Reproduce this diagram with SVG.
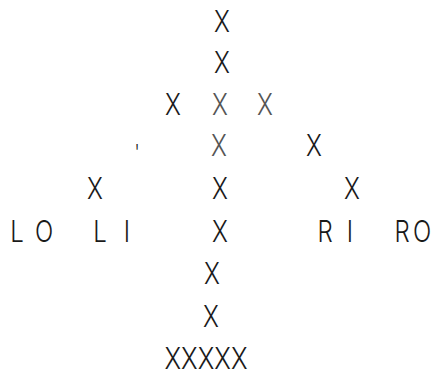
<svg xmlns="http://www.w3.org/2000/svg" width="436" height="377" viewBox="0 0 436 377">
<style>
.t{font-family:Inter,"DejaVu Sans","Liberation Sans",sans-serif;font-size:30px;fill:#1a1a1a;text-anchor:middle;font-weight:300}
.f{fill:#555}
</style>
<rect width="436" height="377" fill="#fff"/>
<g transform="scale(0.8,1)">
<text class="t" x="277.5" y="32">X</text>
<text class="t" x="277.5" y="73">X</text>
<text class="t" x="216.25" y="115">X</text>
<text class="t f" x="275" y="115">X</text>
<text class="t f" x="331.25" y="115">X</text>
<text class="t" x="171.25" y="160" style="font-size:22px">'</text>
<text class="t f" x="273.75" y="156">X</text>
<text class="t" x="392.5" y="156">X</text>
<text class="t" x="118.75" y="199">X</text>
<text class="t" x="275" y="199">X</text>
<text class="t" x="440" y="199">X</text>
<text class="t" x="21.25" y="242">L</text>
<text class="t" x="55" y="242">O</text>
<text class="t" x="125" y="242">L</text>
<text class="t" x="158.75" y="242">I</text>
<text class="t" x="275" y="242">X</text>
<text class="t" x="406.25" y="242">R</text>
<text class="t" x="437.5" y="242">I</text>
<text class="t" x="502.5" y="242">R</text>
<text class="t" x="527.5" y="242">O</text>
<text class="t" x="265" y="284">X</text>
<text class="t" x="263.75" y="327">X</text>
<text class="t" x="257.5" y="369" textLength="103.75" lengthAdjust="spacingAndGlyphs">XXXXX</text>
</g>
</svg>
